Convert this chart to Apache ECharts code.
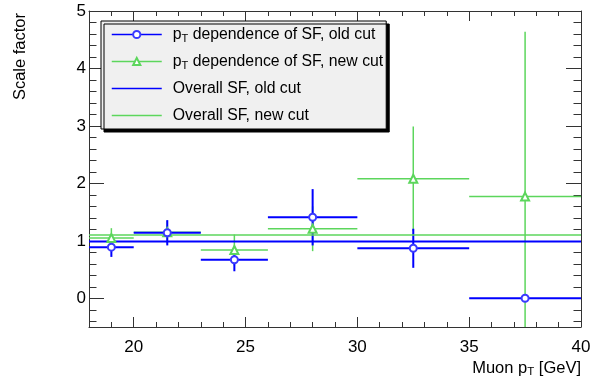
<!DOCTYPE html>
<html><head><meta charset="utf-8">
<script src="https://cdn.jsdelivr.net/npm/echarts@6/dist/echarts.min.js"></script>
<style>html,body{margin:0;padding:0;background:#fff}#c{width:590px;height:383px}</style>
</head><body><div id="c"></div>
<script>
// ---- data ----
const binLow    = [18, 20, 23, 26, 30, 35];
const binHigh   = [20, 23, 26, 30, 35, 40];
const binCenter = [19, 21.5, 24.5, 28, 32.5, 37.5];
const oldSF     = [0.89, 1.14, 0.67, 1.41, 0.87, 0.00];
const oldErr    = [0.17, 0.22, 0.20, 0.49, 0.34, 0.00];
const newSF     = [1.05, 1.15, 0.84, 1.21, 2.08, 1.77];
const newErr    = [0.17, 0.20, 0.27, 0.39, 0.91, 2.87];
const overallOld = 0.99;
const overallNew = 1.10;
const xRange = [18, 40];
const yRange = [-0.5, 5];
const xMajorTicks = [20, 25, 30, 35, 40];
const xMinorTicks = [19, 21, 22, 23, 24, 26, 27, 28, 29, 31, 32, 33, 34, 36, 37, 38, 39];
const yMajorTicks = [0, 1, 2, 3, 4, 5];
const yMinorTicks = [-0.4, -0.2, 0.2, 0.4, 0.6, 0.8, 1.2, 1.4, 1.6, 1.8, 2.2, 2.4, 2.6, 2.8,
                     3.2, 3.4, 3.6, 3.8, 4.2, 4.4, 4.6, 4.8];
const nameOld = 'pT dependence of SF, old cut';
const nameNew = 'pT dependence of SF, new cut';
const nameOverallOld = 'Overall SF, old cut';
const nameOverallNew = 'Overall SF, new cut';

// ---- style ----
const FONT = "'Liberation Sans', Arial, Helvetica, sans-serif";
const BLUE = '#0000ff';
const BLUE_M = '#3a3aff';
const GREEN = '#5cd65c';
const AX = '#333';

const chart = echarts.init(document.getElementById('c'), null, {renderer: 'canvas'});

function errData(vals, errs) {
  return binCenter.map((c, i) => [c, vals[i], binLow[i], binHigh[i], errs[i]]);
}
function errRender(color, width) {
  return function (params, api) {
    const xc = api.value(0), y = api.value(1), xl = api.value(2), xh = api.value(3), e = api.value(4);
    const pL = api.coord([xl, y]), pR = api.coord([xh, y]);
    const children = [
      {type: 'line', shape: {x1: pL[0], y1: pL[1], x2: pR[0], y2: pR[1]}, style: {stroke: color, lineWidth: width}}
    ];
    if (e > 0) {
      const pT = api.coord([xc, Math.min(y + e, yRange[1])]);
      const pB = api.coord([xc, Math.max(y - e, yRange[0])]);
      children.push({type: 'line', shape: {x1: pT[0], y1: pT[1], x2: pB[0], y2: pB[1]}, style: {stroke: color, lineWidth: width}});
    }
    return {type: 'group', children: children};
  };
}

const richStyles = {
  a: {fontSize: 15.8, fontFamily: FONT, color: '#000', lineHeight: 19},
  s: {fontSize: 11, fontFamily: FONT, color: '#000', verticalAlign: 'bottom', lineHeight: 11, padding: [8, 0, 0, 0]}
};
function richName(name) {
  if (name.indexOf('pT') === 0) return '{a|p}{s|T}{a|' + name.slice(2) + '}';
  return '{a|' + name + '}{s| }';
}
const richTitle = {
  a: {fontSize: 16.5, fontFamily: FONT, color: '#000', lineHeight: 19},
  s: {fontSize: 11.5, fontFamily: FONT, color: '#000', verticalAlign: 'bottom', lineHeight: 11.5, padding: [7.5, 0, 0, 0]}
};

function xAx(pos, ticks, len, showLine, showLabel) {
  return {
    type: 'value', min: xRange[0], max: xRange[1], position: pos, gridIndex: 0,
    axisLine: {show: showLine, onZero: false, lineStyle: {color: AX, width: 1}},
    axisTick: {show: true, inside: true, length: len, customValues: ticks, lineStyle: {color: AX, width: 1}},
    axisLabel: showLabel ? {show: true, customValues: xMajorTicks, fontSize: 17, fontFamily: FONT, color: '#000', margin: 12}
                         : {show: false},
    splitLine: {show: false}, minorTick: {show: false}
  };
}
function yAx(pos, ticks, len, showLine, showLabel) {
  return {
    type: 'value', min: yRange[0], max: yRange[1], position: pos, gridIndex: 0,
    axisLine: {show: showLine, onZero: false, lineStyle: {color: AX, width: 1}},
    axisTick: {show: true, inside: true, length: len, customValues: ticks, lineStyle: {color: AX, width: 1}},
    axisLabel: showLabel ? {show: true, customValues: yMajorTicks, fontSize: 17, fontFamily: FONT, color: '#000', margin: 3}
                         : {show: false},
    splitLine: {show: false}, minorTick: {show: false}
  };
}

const option = {
  animation: false,
  backgroundColor: '#fff',
  grid: {left: 89, right: 9, top: 11, bottom: 56, containLabel: false, outerBoundsMode: 'none'},
  xAxis: [
    xAx('bottom', xMajorTicks, 10, true, true),
    xAx('bottom', xMinorTicks, 5, false, false),
    xAx('top', xMajorTicks, 10, true, false),
    xAx('top', xMinorTicks, 5, false, false)
  ],
  yAxis: [
    yAx('left', yMajorTicks, 15, true, true),
    yAx('left', yMinorTicks, 7.5, false, false),
    yAx('right', yMajorTicks, 15, true, false),
    yAx('right', yMinorTicks, 7.5, false, false)
  ],
  legend: {
    orient: 'vertical', left: 101, top: 21,
    padding: [4, 3, 4, 10], itemGap: 8, itemWidth: 50, itemHeight: 9,
    backgroundColor: '#f0f0f0', borderColor: '#000', borderWidth: 1,
    shadowColor: '#000', shadowOffsetX: 3, shadowOffsetY: 3, shadowBlur: 0,
    selectedMode: false,
    textStyle: {fontSize: 15.8, fontFamily: FONT, color: '#000', padding: [0, 0, 0, 6], rich: richStyles},
    formatter: richName,
    data: [
      {name: nameOld, lineStyle: {opacity: 1, width: 1.5, color: BLUE}, itemStyle: {color: BLUE_M}},
      {name: nameNew, lineStyle: {opacity: 1, width: 1.5, color: GREEN}, itemStyle: {color: GREEN}},
      {name: nameOverallOld, lineStyle: {opacity: 1, width: 1.5, color: BLUE}, itemStyle: {opacity: 0}},
      {name: nameOverallNew, lineStyle: {opacity: 1, width: 1.5, color: GREEN}, itemStyle: {opacity: 0}}
    ]
  },
  graphic: [
    {type: 'text', x: 20, y: 13, rotation: Math.PI / 2, silent: true,
     style: {text: 'Scale factor', fontSize: 16.5, fontFamily: FONT, fill: '#000', align: 'right', verticalAlign: 'middle'}},
    {type: 'text', x: 581, y: 368, silent: true,
     style: {text: '{a|Muon p}{s|T}{a| [GeV]}', rich: richTitle, align: 'right', verticalAlign: 'middle'}}
  ],
  series: [
    {type: 'custom', name: 'new err', xAxisIndex: 0, yAxisIndex: 0, clip: true, silent: true,
     renderItem: errRender(GREEN, 1.5), encode: {x: 0, y: 1}, data: errData(newSF, newErr), z: 2},
    {type: 'custom', name: 'old err', xAxisIndex: 0, yAxisIndex: 0, clip: true, silent: true,
     renderItem: errRender(BLUE, 2), encode: {x: 0, y: 1}, data: errData(oldSF, oldErr), z: 3},
    {type: 'line', name: nameOverallNew, xAxisIndex: 0, yAxisIndex: 0, showSymbol: false, symbol: 'circle',
     lineStyle: {color: GREEN, width: 1.5}, itemStyle: {color: GREEN},
     data: [[xRange[0], overallNew], [xRange[1], overallNew]], z: 4, silent: true},
    {type: 'line', name: nameOverallOld, xAxisIndex: 0, yAxisIndex: 0, showSymbol: false, symbol: 'circle',
     lineStyle: {color: BLUE, width: 2}, itemStyle: {color: BLUE},
     data: [[xRange[0], overallOld], [xRange[1], overallOld]], z: 4, silent: true},
    {type: 'line', name: nameNew, xAxisIndex: 0, yAxisIndex: 0, symbol: 'emptyTriangle', symbolSize: 8,
     lineStyle: {opacity: 0, color: GREEN}, itemStyle: {color: GREEN, borderWidth: 1},
     data: binCenter.map((c, i) => [c, newSF[i]]), z: 5, silent: true},
    {type: 'line', name: nameOld, xAxisIndex: 0, yAxisIndex: 0, symbol: 'emptyCircle', symbolSize: 7,
     lineStyle: {opacity: 0, color: BLUE}, itemStyle: {color: BLUE_M, borderWidth: 1},
     data: binCenter.map((c, i) => [c, oldSF[i]]), z: 6, silent: true}
  ]
};
chart.setOption(option);
</script>
</body></html>
